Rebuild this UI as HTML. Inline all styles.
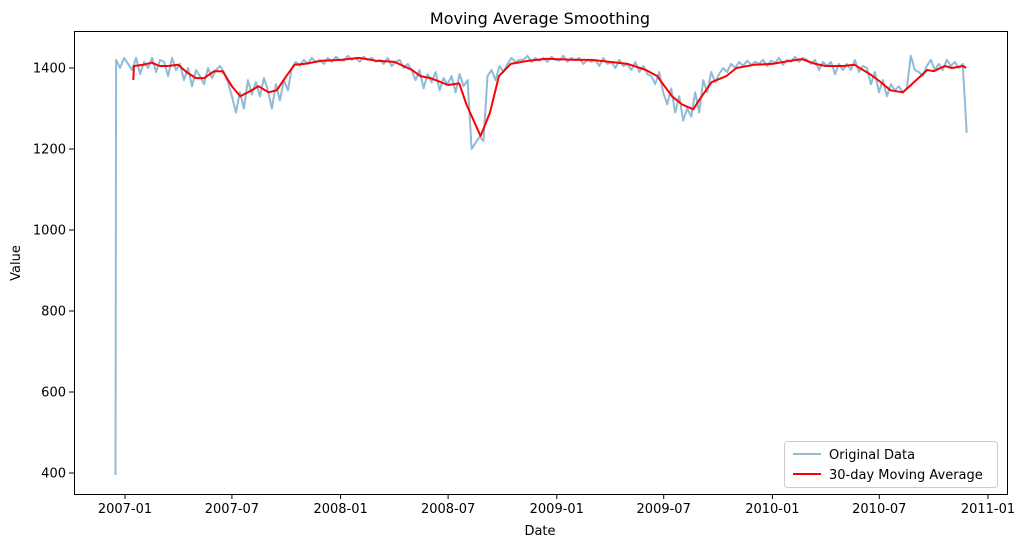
<!DOCTYPE html>
<html><head><meta charset="utf-8"><style>
body{margin:0;background:#fff;font-family:"Liberation Sans","DejaVu Sans",sans-serif;}
svg text{font-family:"DejaVu Sans","Liberation Sans",sans-serif;}
</style></head><body>
<svg id="chart" width="1022" height="547" viewBox="0 0 1022 547" xmlns="http://www.w3.org/2000/svg">
<rect width="1022" height="547" fill="#fff"/>
<text x="540" y="24" font-size="16" text-anchor="middle">Moving Average Smoothing</text>
<g id="plot"></g>
<rect x="74.5" y="31.5" width="933" height="463" fill="none" stroke="#000" stroke-width="1"/>
<text x="540" y="535" font-size="13" text-anchor="middle">Date</text>
<text transform="translate(20,263) rotate(-90)" font-size="13" text-anchor="middle">Value</text>
<g>
<rect x="784.5" y="441.5" width="213" height="46" rx="3" fill="#fff" fill-opacity="0.8" stroke="#ccc"/>
<line x1="793" y1="454" x2="821" y2="454" stroke="#1f77b4" stroke-opacity="0.5" stroke-width="2"/>
<text x="829" y="459" font-size="13">Original Data</text>
<line x1="793" y1="474" x2="821" y2="474" stroke="red" stroke-width="2"/>
<text x="829" y="479" font-size="13">30-day Moving Average</text>
</g>
</svg>
<script>
const startDate = "2006-12-16";
const endDate = "2010-11-26";
const originalValues = [395,1420,1400,1425,
1410,1395,1425,1385,1415, 1400,1425,1390,1420, 1415,1380,1425,1395,1410, 1370,1400,1355,1395,
1380,1360,1400,1375,1395, 1405,1390,1365,1330, 1290,1340,1300,1370,1335, 1365,1330,1375,1345,
1300,1360,1320,1370,1345, 1400,1415,1405,1420, 1410,1425,1415,1420,1410, 1425,1415,1428,1420,
1418,1430,1420,1425,1415, 1428,1420,1425,1415, 1420,1410,1425,1405,1415, 1420,1400,1410,1395,
1370,1395,1350,1385,1365, 1390,1345,1375,1360, 1380,1340,1385,1355,1370, 1200,1215,1230,1220,
1380,1395,1370,1405,1390, 1410,1425,1415,1420, 1420,1430,1415,1425,1418, 1425,1415,1428,1420,
1418,1430,1415,1425,1420, 1425,1410,1420,1415, 1420,1405,1425,1410,1415, 1400,1420,1405,1410,
1395,1415,1390,1405,1385, 1380,1360,1390,1340, 1310,1350,1290,1330,1270, 1300,1280,1340,1290,
1370,1340,1390,1365,1385, 1400,1390,1410,1400, 1415,1405,1418,1408,1415, 1410,1420,1405,1418,
1412,1425,1408,1420,1415, 1428,1415,1425,1420, 1410,1420,1395,1415,1405, 1415,1385,1410,1395,
1410,1395,1420,1390,1405, 1400,1360,1390,1340, 1370,1330,1360,1345,1355, 1340,1350,1430,1395,
1390,1380,1405,1420,1395, 1410,1395,1420,1405, 1415,1400,1410,1240];
const maDates = ["2007-01-15","2007-01-16","2007-02-01","2007-02-15","2007-03-01","2007-03-15","2007-04-01","2007-04-15","2007-05-01","2007-05-15","2007-06-01","2007-06-15","2007-07-01","2007-07-15","2007-08-01","2007-08-15","2007-09-01","2007-09-15","2007-10-01","2007-10-15","2007-11-01","2007-12-01","2008-01-01","2008-02-01","2008-03-01","2008-04-01","2008-05-01","2008-05-15","2008-06-01","2008-07-01","2008-07-20","2008-08-01","2008-08-25","2008-09-10","2008-09-25","2008-10-15","2008-11-15","2008-12-15","2009-02-01","2009-03-01","2009-04-01","2009-05-01","2009-06-01","2009-06-20","2009-07-15","2009-08-01","2009-08-20","2009-09-01","2009-09-20","2009-10-15","2009-11-01","2009-12-01","2010-01-01","2010-02-01","2010-02-20","2010-03-15","2010-04-01","2010-05-01","2010-05-20","2010-06-15","2010-07-01","2010-07-20","2010-08-10","2010-08-25","2010-09-20","2010-10-01","2010-10-20","2010-11-01","2010-11-20","2010-11-25"];
const maValues = [1370,1405,1408,1413,1405,1405,1408,1390,1375,1375,1392,1392,1355,1330,1343,1355,1340,1345,1380,1408,1410,1418,1420,1425,1418,1415,1395,1380,1375,1358,1362,1310,1232,1290,1380,1410,1418,1423,1420,1420,1415,1410,1395,1380,1330,1310,1298,1325,1365,1380,1400,1408,1410,1418,1422,1410,1405,1405,1408,1385,1368,1345,1340,1360,1395,1392,1405,1400,1405,1400];
const xTickLabels = ["2007-01","2007-07","2008-01","2008-07","2009-01","2009-07","2010-01","2010-07","2011-01"];
const yTicks = [400,600,800,1000,1200,1400];

const NS="http://www.w3.org/2000/svg";
const day=d=>Date.parse(d+(d.length===7?"-01":"")+"T00:00:00Z")/86400000;
const d0=day("2007-01-01"), d1=day("2011-01-01");
const xs=d=>125+(d-d0)*(988-125)/(d1-d0);
const ys=v=>473-(v-400)*0.405;
const plot=document.getElementById("plot");
function mk(tag,attrs){const e=document.createElementNS(NS,tag);for(const k in attrs)e.setAttribute(k,attrs[k]);plot.appendChild(e);return e;}

xTickLabels.forEach(l=>{const x=xs(day(l));
 const t=mk("line",{x1:x,x2:x,y1:494,y2:499,stroke:"#000"});
 
 
 const tx=mk("text",{x:x,y:513,"font-size":13,"text-anchor":"middle"});tx.textContent=l;
 
 });
yTicks.forEach(v=>{const y=ys(v);
 const t=mk("line",{x1:69,x2:74,y1:y,y2:y,stroke:"#000"});
 
 
 const tx=mk("text",{x:66,y:y+4.5,"font-size":13,"text-anchor":"end"});tx.textContent=v;
 
 });

const s=day(startDate), e=day(endDate);
const pts=originalValues.map((v,i)=>{const d=i===0?s:s+1+(i-1)*(e-s-1)/(originalValues.length-2);return xs(d).toFixed(1)+","+ys(v).toFixed(1);});
const orig=mk("polyline",{points:pts.join(" "),fill:"none",stroke:"#1f77b4","stroke-opacity":0.5,"stroke-width":2,"stroke-linejoin":"round"});


const mpts=maValues.map((v,i)=>xs(day(maDates[i])).toFixed(1)+","+ys(v).toFixed(1));
const ma=mk("polyline",{points:mpts.join(" "),fill:"none",stroke:"red","stroke-width":2,"stroke-linejoin":"round"});


</script>
</body></html>
